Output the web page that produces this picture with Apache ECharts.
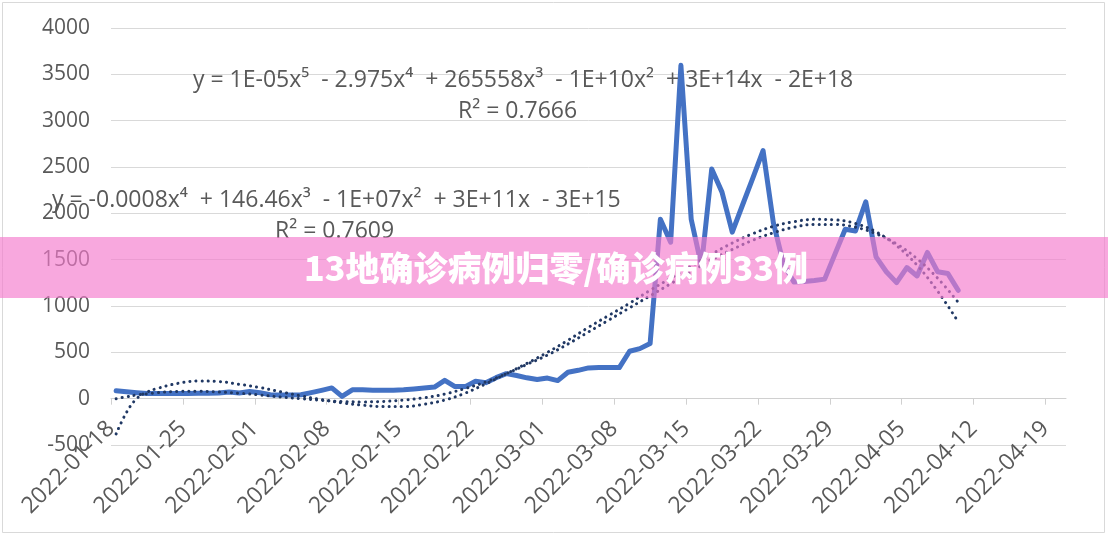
<!DOCTYPE html>
<html>
<head>
<meta charset="utf-8">
<script src="https://cdn.jsdelivr.net/npm/echarts@6/dist/echarts.min.js"></script>
<style>
  html, body { margin: 0; padding: 0; background: #fff; }
  #chart { width: 1108px; height: 536px; }
</style>
</head>
<body>
<div id="chart"></div>
<script>
// 起始日期，x 轴按天计数
const startDate = '2022-01-18';
const tickDays = [0, 7, 14, 21, 28, 35, 42, 49, 56, 63, 70, 77, 84, 91];
const yTicks = [-500, 0, 500, 1000, 1500, 2000, 2500, 3000, 3500, 4000];

// 每日确诊（从 2022-01-18 起，每天一个值）
const cases = [
  85, 75, 65, 57, 57, 57, 57, 57, 58, 58,
  60, 72, 62, 78, 65, 43, 40, 40, 42, 65,
  90, 116, 25, 95, 95, 92, 90, 90, 95, 105,
  115, 125, 198, 130, 130, 187, 173, 227, 270, 250,
  225, 206, 222, 195, 285, 306, 332, 335, 335, 335,
  512, 540, 595, 1937, 1688, 3597, 1937, 1432, 2478, 2229,
  1797, 2090, 2380, 2677, 1900, 1450, 1260, 1265, 1275, 1290,
  1560, 1829, 1810, 2125, 1530, 1370, 1252, 1415, 1324, 1578,
  1370, 1350, 1170
];

// 趋势线（读图取样）
const trendDays = [0, 1, 2, 3, 4, 6, 8, 10, 12, 14, 16, 18, 20, 22, 24, 26, 28, 30, 32, 34,
  36, 38, 40, 42, 44, 46, 48, 50, 52, 54, 56, 58, 60, 62, 64, 66, 68, 70, 72, 74, 76, 78, 80, 82];
const trend5 = [-380, -150, 0, 70, 110, 165, 190, 185, 155, 120, 75, 30, -10, -45, -70, -85, -85, -60, -15, 60,
  160, 270, 380, 500, 630, 770, 900, 1030, 1170, 1300, 1430, 1560, 1680, 1780, 1860, 1910, 1935, 1930, 1890, 1800, 1650, 1440, 1160, 830];
const trend4 = [0, 20, 40, 52, 65, 78, 80, 72, 58, 40, 18, 0, -18, -30, -35, -30, -15, 10, 50, 110,
  180, 270, 370, 470, 590, 720, 850, 980, 1110, 1240, 1370, 1500, 1610, 1710, 1790, 1850, 1880, 1880, 1850, 1780, 1670, 1510, 1300, 1040];

const eq1 = 'y = 1E-05x⁵  - 2.975x⁴  + 265558x³  - 1E+10x²  + 3E+14x  - 2E+18';
const r1 = 'R² = 0.7666';
const eq2 = 'y = -0.0008x⁴  + 146.46x³  - 1E+07x²  + 3E+11x  - 3E+15';
const r2 = 'R² = 0.7609';
const banner = '13地确诊病例归零/确诊病例33例';

function dayLabel(d) {
  const t = new Date(Date.parse(startDate + 'T00:00:00Z') + d * 86400000);
  return t.toISOString().slice(0, 10);
}

// 点位于每天格子的中间
const caseData = cases.map((v, i) => [i + 0.5, v]);
const t5Data = trendDays.map((d, i) => [d + 0.5, trend5[i]]);
const t4Data = trendDays.map((d, i) => [d + 0.5, trend4[i]]);

const chart = echarts.init(document.getElementById('chart'));
const labelFont = '"Open Sans", sans-serif';
const eqStyle = { fill: '#595959', fontSize: 23, fontFamily: labelFont };
const dotLine = { color: '#203864', width: 3, type: [0.1, 6], cap: 'round' };

const option = {
  backgroundColor: '#fff',
  animation: false,
  grid: { left: 111, right: 42, top: 28, bottom: 91, outerBoundsMode: 'none' },
  xAxis: {
    type: 'value',
    min: 0,
    max: 93,
    axisLine: { onZero: true, lineStyle: { color: '#d0d0d0', width: 1 } },
    axisTick: { show: true, length: 6, customValues: tickDays, lineStyle: { color: '#d0d0d0' } },
    axisLabel: {
      customValues: tickDays,
      rotate: 45,
      margin: -20,
      fontSize: 23,
      color: '#595959',
      fontFamily: labelFont,
      formatter: v => dayLabel(v)
    },
    splitLine: { show: false }
  },
  yAxis: {
    type: 'value',
    min: -500,
    max: 4000,
    interval: 500,
    axisLine: { show: false },
    axisTick: { show: false },
    axisLabel: { fontSize: 21, color: '#595959', margin: 21, fontFamily: labelFont, formatter: v => String(v) },
    splitLine: { lineStyle: { color: '#d9d9d9', width: 1 } }
  },
  series: [
    {
      name: '确诊',
      type: 'line',
      data: caseData,
      symbol: 'none',
      z: 2,
      lineStyle: { color: '#4472C4', width: 5, cap: 'round', join: 'round' }
    },
    { name: '多项式(5)', type: 'line', data: t5Data, symbol: 'none', smooth: 0.4, z: 3, lineStyle: dotLine },
    { name: '多项式(4)', type: 'line', data: t4Data, symbol: 'none', smooth: 0.4, z: 3, lineStyle: dotLine }
  ],
  graphic: [
    { type: 'rect', shape: { x: 2.5, y: 2.5, width: 1102, height: 530 }, style: { fill: 'none', stroke: '#d9d9d9', lineWidth: 1 }, z: 1 },
    { type: 'text', x: 193, y: 80, style: Object.assign({ text: eq1, verticalAlign: 'middle' }, eqStyle), z: 50 },
    { type: 'text', x: 458, y: 111, style: Object.assign({ text: r1, verticalAlign: 'middle' }, eqStyle), z: 50 },
    { type: 'text', x: 52, y: 200, style: Object.assign({ text: eq2, verticalAlign: 'middle' }, eqStyle), z: 50 },
    { type: 'text', x: 275, y: 231, style: Object.assign({ text: r2, verticalAlign: 'middle' }, eqStyle), z: 50 },
    { type: 'rect', shape: { x: 0, y: 237, width: 1108, height: 61 }, style: { fill: 'rgba(244,122,205,0.65)' }, z: 100 },
    {
      type: 'text', x: 556, y: 268, z: 101,
      style: {
        text: banner, fill: '#fff', fontSize: 34, fontWeight: 900,
        fontFamily: '"Noto Sans CJK SC", sans-serif', align: 'center', verticalAlign: 'middle'
      }
    }
  ]
};

chart.setOption(option);
</script>
</body>
</html>
